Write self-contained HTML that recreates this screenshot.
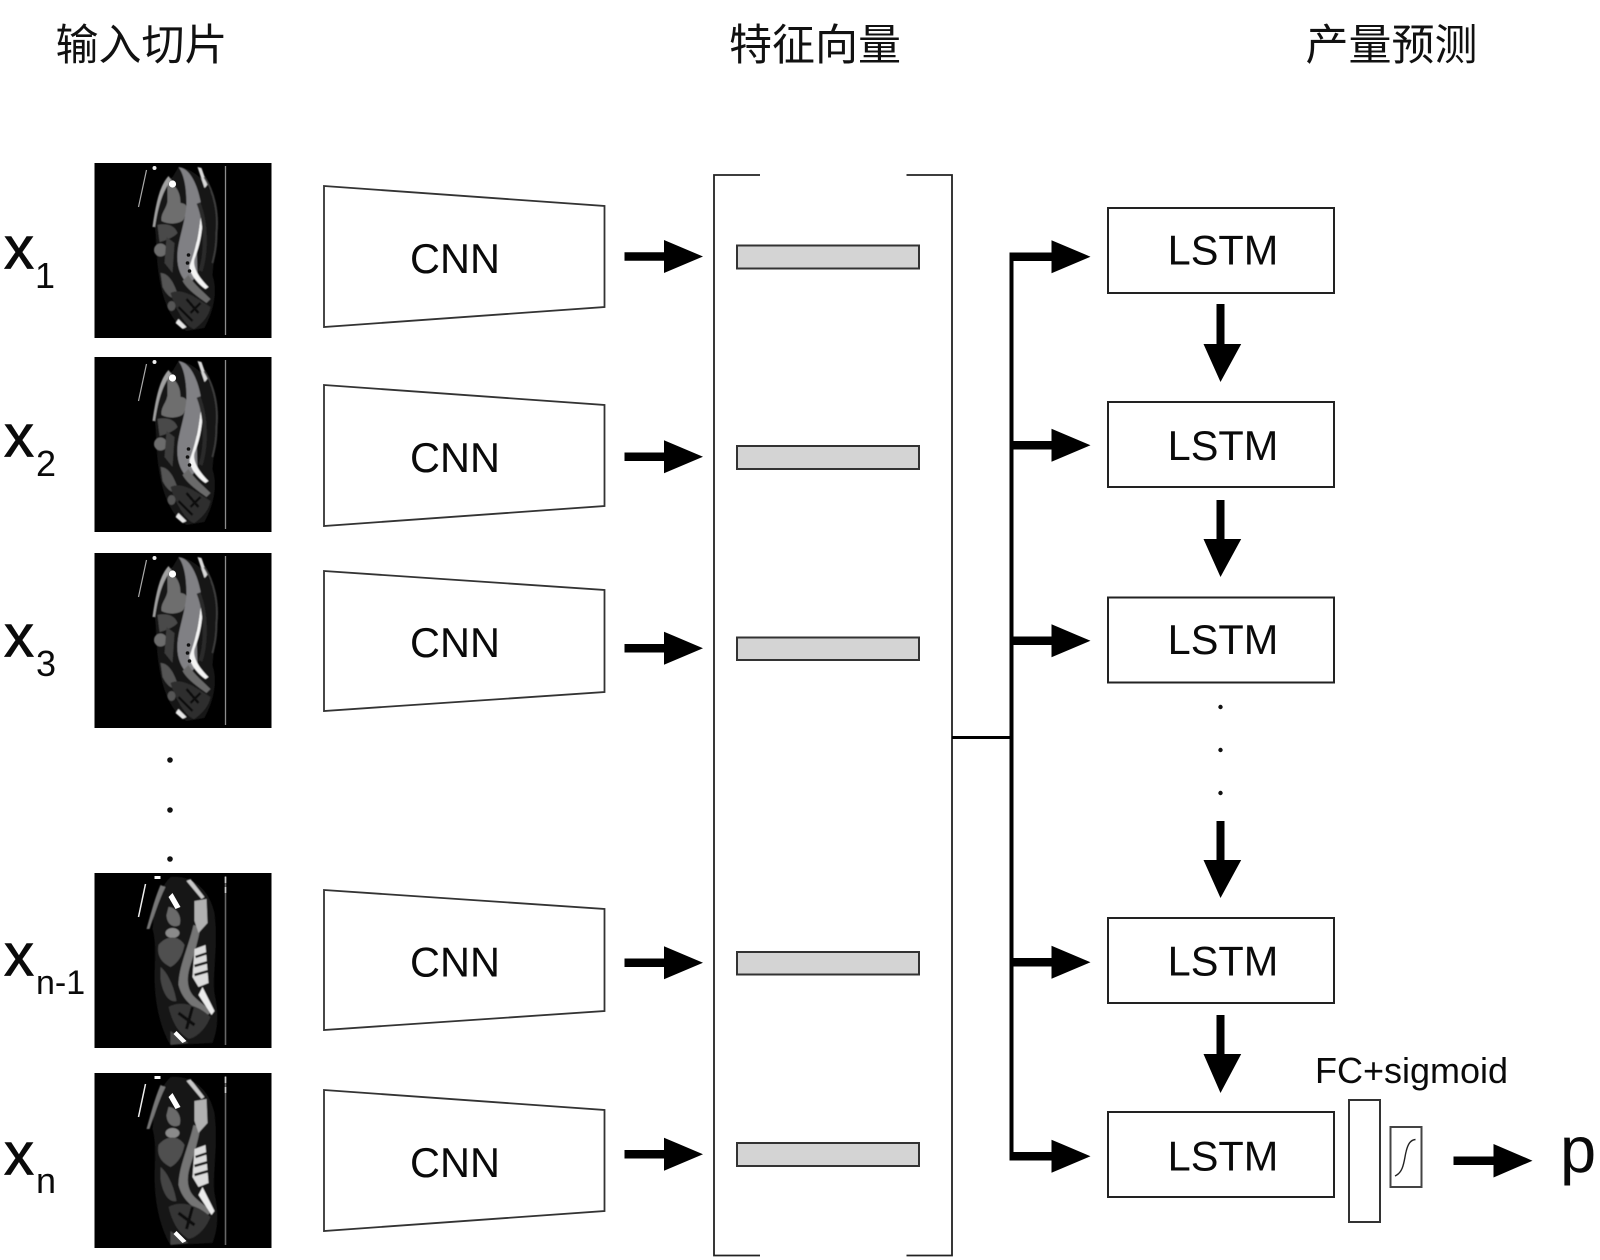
<!DOCTYPE html>
<html lang="zh">
<head>
<meta charset="utf-8">
<title>CNN-LSTM diagram</title>
<style>
html,body{margin:0;padding:0;background:#fff;width:1600px;height:1260px;overflow:hidden}
svg{display:block}
text{font-family:"Liberation Sans",Arial,sans-serif;fill:#0a0a0a}
.cjk{font-family:"Liberation Sans","Noto Sans CJK SC",sans-serif;font-size:43px;font-weight:400;fill:#111}
.x{font-size:60px;stroke:#0a0a0a;stroke-width:.8}
.s{font-size:36px}
.c{font-size:41.5px;text-anchor:middle}
.trap{fill:#fff;stroke:#333;stroke-width:1.8}
.bar{fill:#d4d4d4;stroke:#333;stroke-width:2}
.lstm{fill:#fff;stroke:#222;stroke-width:2}
</style>
</head>
<body>
<svg width="1600" height="1260" viewBox="0 0 1600 1260" xmlns="http://www.w3.org/2000/svg">
<defs>
<filter id="b" x="-5%" y="-5%" width="110%" height="110%"><feGaussianBlur stdDeviation="0.5"/></filter>
<path id="ar" d="M0 -4.25H39.5V-16.5L78.5 0L39.5 16.5V4.25H0Z" fill="#000"/>
<path id="ar2" d="M0 -4.25H41.5V-16.5L80.5 0L41.5 16.5V4.25H0Z" fill="#000"/>
<g id="a">
  <rect width="177" height="175" fill="#000"/>
  <g filter="url(#b)">
    <path d="M84 4C100 6 116 20 122 45C124 70 120 90 118 112C124 130 118 150 110 165L92 168C78 160 68 140 64 110C61 88 62 72 60 62C62 40 68 24 78 14Z" fill="#141414"/>
    <path d="M73 21C80 20 86 28 86 40C94 40 96 50 90 54C90 60 76 63 67 58C66 50 72 46 73 38Z" fill="#6e6e6e"/>
    <path d="M74 13C66 22 62 36 58 64L60.5 64C64 42 68 28 77 17Z" fill="#a0a0a0"/>
    <path d="M84 4C94 5 102 18 106 38C107 52 105 66 102 78L103 112L94 122C86 114 82 104 83 90C84 76 90 62 92 42C92 26 90 12 84 4Z" fill="#808084"/>
    <path d="M94 112C100 122 108 128 116 136L112 140C104 134 94 128 88 118Z" fill="#6a6a6a"/>
    <path d="M103 4L107 5L113 22L110 25Z" fill="#d8d8d8"/>
    <path d="M106 54L108 56C108 72 104 86 100 96C98 104 104 114 114 124L111 126C102 120 95 110 95 103C100 90 104 74 106 54Z" fill="#f4f4f4"/>
    <path d="M63 62C72 60 80 62 83 70C80 74 70 78 65 79Z" fill="#4a4a4a"/>
    <circle cx="66" cy="87" r="6.5" fill="#6c6c6c"/>
    <path d="M72 74L80 80L78 110L70 100Z" fill="#3c3c3c"/>
    <path d="M66 110C74 110 80 120 84 134C78 138 72 132 68 124Z" fill="#555"/>
    <path d="M76 130C88 124 104 136 116 144C114 154 108 160 100 166C94 166 82 150 76 130Z" fill="#2e2e2e"/>
    <path d="M92 136L104 150M84 144L98 158M106 140L96 150" stroke="#111" stroke-width="2.5" fill="none"/>
    <ellipse cx="77" cy="143" rx="4" ry="5" fill="#555"/>
    <path d="M110 14C120 30 124 50 122 70C122 84 120 92 118 100" fill="none" stroke="#3c3c3c" stroke-width="2"/>
    <path d="M104 40C112 60 112 90 106 108" fill="none" stroke="#2c2c2c" stroke-width="4"/>
    <path d="M84 156L92 164L88 166L81 160Z" fill="#e8e8e8"/>
  </g>
  <path d="M52 7L44 44" stroke="#aaa" stroke-width="1.2"/>
  <circle cx="60" cy="5" r="2" fill="#eee"/>
  <circle cx="78" cy="21" r="3.6" fill="#fff"/>
  <circle cx="94" cy="92" r="1.8" fill="#111"/><circle cx="93" cy="100" r="1.8" fill="#111"/><circle cx="95" cy="108" r="1.8" fill="#111"/>
  <path d="M131 3V172" stroke="#8c8c8c" stroke-width="1.3"/>
</g>
<g id="c">
  <rect width="177" height="175" fill="#000"/>
  <g filter="url(#b)">
    <path d="M76 4C96 2 114 14 120 40C124 70 118 100 120 120C124 140 124 155 118 170L76 172C66 156 60 130 60 104C60 88 62 70 58 56C60 34 64 16 76 4Z" fill="#151515"/>
    <path d="M66 12C60 26 56 42 52 56L55 56C60 42 64 28 71 14Z" fill="#777"/>
    <path d="M74 34C82 34 88 44 85 52C78 56 72 50 72 42Z" fill="#6a6a6a"/>
    <ellipse cx="78" cy="60" rx="7" ry="5" fill="#8a8a8a"/>
    <path d="M64 72C72 62 84 62 90 72C88 82 84 90 76 94C68 90 62 84 64 72Z" fill="#505050"/>
    <path d="M99 52L106 54C104 66 100 80 96 92C92 104 92 116 100 124C106 130 112 134 118 138L113 142C100 136 88 128 84 112C84 94 94 74 99 52Z" fill="#747474"/>
    <path d="M100 28L112 26L113 50L104 60L100 48Z" fill="#b0b0b0"/>
    <path d="M96 6L110 24L107 26L92 8Z" fill="#c8c8c8"/>
    <path d="M100 76L111 72L114 110L104 114L98 104Z" fill="#dcdcdc"/>
    <path d="M101 84L113 80M100 93L114 89M100 102L114 98" stroke="#1a1a1a" stroke-width="2.5"/>
    <path d="M108 114L120 138L117 142L104 122Z" fill="#ececec"/>
    <path d="M66 94C74 100 80 116 82 128C74 130 68 120 66 106Z" fill="#444"/>
    <path d="M74 134C88 126 106 134 116 144C112 154 104 164 94 166C84 160 78 150 74 134Z" fill="#343434"/>
    <path d="M84 140L100 152M98 134L92 156" stroke="#0e0e0e" stroke-width="3"/>
    <path d="M76 158L94 170L76 172Z" fill="#444"/>
  </g>
  <path d="M78 20L86 34L81 36L74 24Z" fill="#fff"/>
  <path d="M82 158L92 168L88 170L79 161Z" fill="#fff"/>
  <path d="M51 11L44 44" stroke="#eee" stroke-width="1.5"/>
  <rect x="60" y="3" width="6" height="3" fill="#fff"/>
  <path d="M131 3V172" stroke="#666" stroke-width="1.6"/>
  <path d="M131 4V10M131 14V20" stroke="#ccc" stroke-width="1.6"/>
</g>
</defs>

<text class="cjk" x="55.5" y="60">输入切片</text>
<text class="cjk" x="729" y="60">特征向量</text>
<text class="cjk" x="1305.5" y="60">产量预测</text>

<!-- scans -->
<use href="#a" x="94.5" y="163"/>
<use href="#a" x="94.5" y="357"/>
<use href="#a" x="94.5" y="553"/>
<use href="#c" x="94.5" y="873"/>
<use href="#c" x="94.5" y="1073"/>

<!-- x labels -->
<text class="x" x="4" y="268.5">x</text><text class="s" x="35" y="288">1</text>
<text class="x" x="4" y="456.5">x</text><text class="s" x="36" y="476">2</text>
<text class="x" x="4" y="656.5">x</text><text class="s" x="36" y="676">3</text>
<text class="x" x="4" y="975.5">x</text><text class="s" x="36" y="994" font-size="34" style="font-size:34px">n-1</text>
<text class="x" x="4" y="1174.5">x</text><text class="s" x="36" y="1193">n</text>

<circle cx="170" cy="760" r="2.8" fill="#111"/>
<circle cx="170" cy="810" r="2.8" fill="#111"/>
<circle cx="170" cy="859" r="2.8" fill="#111"/>

<!-- CNN -->
<polygon class="trap" points="324,186 604.5,206 604.5,307 324,327"/>
<polygon class="trap" points="324,385 604.5,405 604.5,506 324,526"/>
<polygon class="trap" points="324,571 604.5,590 604.5,692 324,711"/>
<polygon class="trap" points="324,890 604.5,909 604.5,1011 324,1030"/>
<polygon class="trap" points="324,1090 604.5,1110 604.5,1211 324,1231"/>
<text class="c" x="455" y="273">CNN</text>
<text class="c" x="455" y="472">CNN</text>
<text class="c" x="455" y="657">CNN</text>
<text class="c" x="455" y="976.5">CNN</text>
<text class="c" x="455" y="1177">CNN</text>

<!-- CNN → vector arrows -->
<use href="#ar" x="624.5" y="256.5"/>
<use href="#ar" x="624.5" y="456.7"/>
<use href="#ar" x="624.5" y="648.2"/>
<use href="#ar" x="624.5" y="962.8"/>
<use href="#ar" x="624.5" y="1154.2"/>

<!-- bracket -->
<path d="M760 175H714V1255.5H760M906.5 175H952V1255.5H906.5" fill="none" stroke="#222" stroke-width="1.8"/>

<!-- bars -->
<rect class="bar" x="737" y="245.5" width="182" height="23"/>
<rect class="bar" x="737" y="446" width="182" height="23"/>
<rect class="bar" x="737" y="637.5" width="182" height="22.5"/>
<rect class="bar" x="737" y="952" width="182" height="22.5"/>
<rect class="bar" x="737" y="1143" width="182" height="23"/>

<!-- trunk -->
<path d="M952 737.5H1011" stroke="#000" stroke-width="3" fill="none"/>
<rect x="1009.5" y="252.5" width="4" height="908" fill="#000"/>
<use href="#ar2" x="1010" y="256.7"/>
<use href="#ar2" x="1010" y="445.3"/>
<use href="#ar2" x="1010" y="640.8"/>
<use href="#ar2" x="1010" y="962.2"/>
<use href="#ar2" x="1010" y="1156.2"/>

<!-- LSTM -->
<rect class="lstm" x="1108" y="208" width="226" height="85"/>
<rect class="lstm" x="1108" y="402" width="226" height="85"/>
<rect class="lstm" x="1108" y="597.5" width="226" height="85"/>
<rect class="lstm" x="1108" y="918" width="226" height="85"/>
<rect class="lstm" x="1108" y="1112" width="226" height="85"/>
<text class="c" x="1223" y="264.5">LSTM</text>
<text class="c" x="1223" y="460">LSTM</text>
<text class="c" x="1223" y="654">LSTM</text>
<text class="c" x="1223" y="975.5">LSTM</text>
<text class="c" x="1223" y="1170.5">LSTM</text>

<!-- down arrows -->
<g fill="#000">
<path d="M1216.5 304h8v40h16.7l-20.7 38-17-38h13z"/>
<path d="M1216.5 500h8v39h16.7l-20.7 38-17-38h13z"/>
<path d="M1216.5 821h8v39h16.7l-20.7 38-17-38h13z"/>
<path d="M1216.5 1015h8v39h16.7l-20.7 39-17-39h13z"/>
</g>
<circle cx="1220.5" cy="707" r="2.2" fill="#111"/>
<circle cx="1220.5" cy="750" r="2.2" fill="#111"/>
<circle cx="1220.5" cy="793" r="2.2" fill="#111"/>

<!-- output -->
<text x="1315" y="1083" font-size="36">FC+sigmoid</text>
<rect x="1349" y="1100" width="31" height="122" fill="#fff" stroke="#333" stroke-width="2"/>
<rect x="1390.5" y="1127" width="31" height="60" fill="#fff" stroke="#444" stroke-width="2"/>
<path d="M1395 1176C1404 1172 1404 1160 1406 1152C1408 1143 1411 1140 1415.5 1139.5" fill="none" stroke="#222" stroke-width="1.4"/>
<path d="M1453.5 1156.5H1493.5V1144L1532.5 1160.7L1493.5 1177.5V1165H1453.5Z" fill="#000"/>
<text x="1560" y="1172" font-size="65">p</text>
</svg>
</body>
</html>
